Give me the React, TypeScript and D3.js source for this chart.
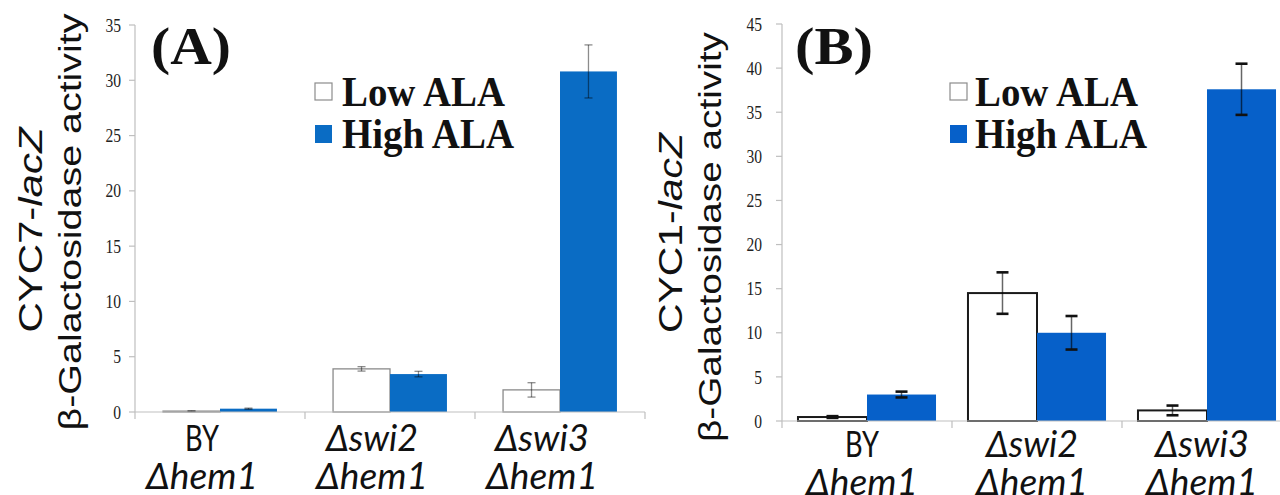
import React from "react";
import * as d3 from "d3";

// ---------- data ----------
const categoriesTop = ["BY", "Δswi2", "Δswi3"];
const categoriesBottom = ["Δhem1", "Δhem1", "Δhem1"];
const topItalic = [false, true, true];
const seriesNames = ["Low ALA", "High ALA"];

const lowA = [0.08, 3.9, 2.0];
const lowAErr = [0.03, 0.2, 0.65];
const highA = [0.3, 3.43, 30.8];
const highAErr = [0.05, 0.25, 2.4];
const ticksA = [0, 5, 10, 15, 20, 25, 30, 35];

const lowB = [0.45, 14.5, 1.2];
const lowBErr = [0.1, 2.35, 0.55];
const highB = [3.0, 10.0, 37.6];
const highBErr = [0.33, 1.9, 2.9];
const ticksB = [0, 5, 10, 15, 20, 25, 30, 35, 40, 45];

// ---------- style (not data) ----------
const labelLen: Record<string, number> = { BY: 34, "Δswi2": 92, "Δswi3": 94, "Δhem1": 112 };

type PanelCfg = {
  letter: string;
  gene: string;
  low: number[];
  lowErr: number[];
  high: number[];
  highErr: number[];
  ticks: number[];
  yMax: number;
  x0: number;
  y0: number;
  yTop: number;
  padInner: number;
  padOuter: number;
  blue: string;
  lowStroke: string;
  lowStrokeW: number;
  errStyle: "gray" | "black";
  labelOffset: number;
  labelBase1: number;
  labelBase2: number;
  title1: { x: number; y: number; len: number };
  title2: { x: number; y: number; len: number };
  tickLabelX: number;
  letterX: number;
  letterLen: number;
  legendX: number;
  legendTextX: number;
};

function Panel({ c }: { c: PanelCfg }) {
  const width = 510;
  const x = d3
    .scaleBand<string>()
    .domain(d3.range(categoriesTop.length).map(String))
    .range([c.x0, c.x0 + width])
    .paddingInner(c.padInner)
    .paddingOuter(c.padOuter);
  const sub = d3
    .scaleBand<string>()
    .domain(["low", "high"])
    .range([0, x.bandwidth()]);
  const y = d3.scaleLinear().domain([0, c.yMax]).range([c.y0, c.yTop]);
  const step = x.step();
  const sepXs = d3.range(categoriesTop.length + 1).map((i) => c.x0 + i * step);
  const axisColor = "#bfbfbf";

  const err = (cx: number, v: number, e: number, key: string) => {
    const top = y(v + e);
    const bot = y(Math.max(0, v - e));
    if (c.errStyle === "gray") {
      return (
        <g key={key}>
          <line x1={cx} x2={cx} y1={top} y2={bot} stroke="#000" strokeOpacity={0.45} strokeWidth={1.3} />
          <line x1={cx - 4} x2={cx + 4} y1={top} y2={top} stroke="#000" strokeOpacity={0.45} strokeWidth={1.3} />
          <line x1={cx - 4} x2={cx + 4} y1={bot} y2={bot} stroke="#000" strokeOpacity={0.45} strokeWidth={1.3} />
        </g>
      );
    }
    return (
      <g key={key}>
        <line x1={cx} x2={cx} y1={top} y2={bot} stroke="#000" strokeOpacity={0.6} strokeWidth={1.5} />
        <line x1={cx - 6} x2={cx + 6} y1={top} y2={top} stroke="#111" strokeWidth={2.6} />
        <line x1={cx - 6} x2={cx + 6} y1={bot} y2={bot} stroke="#111" strokeWidth={2.6} />
      </g>
    );
  };

  return (
    <g>
      {/* y axis title */}
      <text
        transform={`translate(${c.title1.x},${c.title1.y}) rotate(-90)`}
        textAnchor="middle"
        fontFamily="'Liberation Sans', Arial, sans-serif"
        fontSize={33}
        textLength={c.title1.len}
        lengthAdjust="spacingAndGlyphs"
        fill="#111"
      >
        {c.gene}-<tspan fontStyle="italic">lacZ</tspan>
      </text>
      <text
        transform={`translate(${c.title2.x},${c.title2.y}) rotate(-90)`}
        textAnchor="middle"
        fontFamily="'Liberation Sans', Arial, sans-serif"
        fontSize={32}
        textLength={c.title2.len}
        lengthAdjust="spacingAndGlyphs"
        fill="#111"
      >
        β-Galactosidase activity
      </text>

      {/* y axis */}
      <line x1={c.x0} x2={c.x0} y1={y(0)} y2={y(c.yMax)} stroke={axisColor} strokeWidth={1.2} />
      {c.ticks.map((t) => (
        <g key={t}>
          <line x1={c.x0 - 6} x2={c.x0} y1={y(t)} y2={y(t)} stroke={axisColor} strokeWidth={1.2} />
          <text
            x={c.tickLabelX}
            y={y(t)}
            dy="0.35em"
            textAnchor="end"
            fontFamily="'Liberation Serif', 'Times New Roman', serif"
            fontSize={19}
            fill="#222"
            transform={`translate(${c.tickLabelX},0) scale(0.82,1) translate(${-c.tickLabelX},0)`}
          >
            {t}
          </text>
        </g>
      ))}

      {/* bars */}
      {categoriesTop.map((_, i) => {
        const gx = x(String(i))!;
        const lx = gx + sub("low")!;
        const hx = gx + sub("high")!;
        const bw = sub.bandwidth();
        const lowTop = y(c.low[i]);
        const highTop = y(c.high[i]);
        return (
          <g key={i}>
            <rect
              x={lx}
              y={lowTop}
              width={bw}
              height={Math.max(0.5, y(0) - lowTop)}
              fill="#fff"
              stroke={c.lowStroke}
              strokeWidth={c.lowStrokeW}
            />
            <rect x={hx} y={highTop} width={bw} height={y(0) - highTop} fill={c.blue} />
            {err(lx + bw / 2, c.low[i], c.lowErr[i], "el" + i)}
            {err(hx + bw / 2, c.high[i], c.highErr[i], "eh" + i)}
          </g>
        );
      })}

      {/* x axis */}
      <line x1={c.x0} x2={c.x0 + width} y1={y(0)} y2={y(0)} stroke={axisColor} strokeWidth={1.2} />
      {sepXs.map((sx, i) => (
        <line key={i} x1={sx} x2={sx} y1={y(0)} y2={y(0) + 7} stroke={axisColor} strokeWidth={1.2} />
      ))}

      {/* x labels */}
      {categoriesTop.map((lab, i) => {
        const cx = x(String(i))! + x.bandwidth() / 2 + c.labelOffset;
        return (
          <g key={"lab" + i} fontFamily="Lato, 'Open Sans', sans-serif" fontSize={37} fill="#111">
            <text
              x={cx}
              y={c.labelBase1}
              textAnchor="middle"
              fontStyle={topItalic[i] ? "italic" : "normal"}
              textLength={labelLen[lab]}
              lengthAdjust="spacingAndGlyphs"
            >
              {lab}
            </text>
            <text
              x={cx}
              y={c.labelBase2}
              textAnchor="middle"
              fontStyle="italic"
              textLength={labelLen[categoriesBottom[i]]}
              lengthAdjust="spacingAndGlyphs"
            >
              {categoriesBottom[i]}
            </text>
          </g>
        );
      })}

      {/* panel letter */}
      <text
        x={c.letterX}
        y={64}
        fontFamily="'Liberation Serif', 'Times New Roman', serif"
        fontWeight="bold"
        fontSize={52}
        textLength={c.letterLen}
        lengthAdjust="spacingAndGlyphs"
        fill="#111"
      >
        ({c.letter})
      </text>

      {/* legend */}
      <rect x={c.legendX} y={83} width={17} height={17} fill="#fff" stroke="#8c8c8c" strokeWidth={1.2} />
      <text
        x={c.legendTextX}
        y={106}
        fontFamily="'Liberation Serif', 'Times New Roman', serif"
        fontWeight="bold"
        fontSize={42}
        textLength={163}
        lengthAdjust="spacingAndGlyphs"
        fill="#111"
      >
        {seriesNames[0]}
      </text>
      <rect x={c.legendX} y={125} width={17} height={18} fill={c.blue} />
      <text
        x={c.legendTextX}
        y={148}
        fontFamily="'Liberation Serif', 'Times New Roman', serif"
        fontWeight="bold"
        fontSize={42}
        textLength={172}
        lengthAdjust="spacingAndGlyphs"
        fill="#111"
      >
        {seriesNames[1]}
      </text>
    </g>
  );
}

const panelA: PanelCfg = {
  letter: "A",
  gene: "CYC7",
  low: lowA,
  lowErr: lowAErr,
  high: highA,
  highErr: highAErr,
  ticks: ticksA,
  yMax: 35,
  x0: 135,
  y0: 412,
  yTop: 25,
  padInner: 0.33,
  padOuter: 0.165,
  blue: "#0a6cc4",
  lowStroke: "#8a8a8a",
  lowStrokeW: 1.3,
  errStyle: "gray",
  labelOffset: -18,
  labelBase1: 451,
  labelBase2: 489,
  title1: { x: 42, y: 230, len: 205 },
  title2: { x: 81, y: 222, len: 417 },
  tickLabelX: 121,
  letterX: 151,
  letterLen: 80,
  legendX: 315,
  legendTextX: 342,
};

const panelB: PanelCfg = {
  letter: "B",
  gene: "CYC1",
  low: lowB,
  lowErr: lowBErr,
  high: highB,
  highErr: highBErr,
  ticks: ticksB,
  yMax: 45,
  x0: 782,
  y0: 421,
  yTop: 24,
  padInner: 0.188,
  padOuter: 0.094,
  blue: "#0660c9",
  lowStroke: "#1a1a1a",
  lowStrokeW: 2,
  errStyle: "black",
  labelOffset: -5,
  labelBase1: 457,
  labelBase2: 495,
  title1: { x: 682, y: 233, len: 200 },
  title2: { x: 721, y: 237, len: 410 },
  tickLabelX: 762,
  letterX: 795,
  letterLen: 78,
  legendX: 950,
  legendTextX: 975,
};

export default function App() {
  return (
    <svg
      width={1280}
      height={495}
      viewBox="0 0 1280 495"
      style={{ position: "absolute", left: 0, top: 0, background: "#fff" }}
    >
      <rect width={1280} height={495} fill="#fff" />
      <Panel c={panelA} />
      <Panel c={panelB} />
    </svg>
  );
}
